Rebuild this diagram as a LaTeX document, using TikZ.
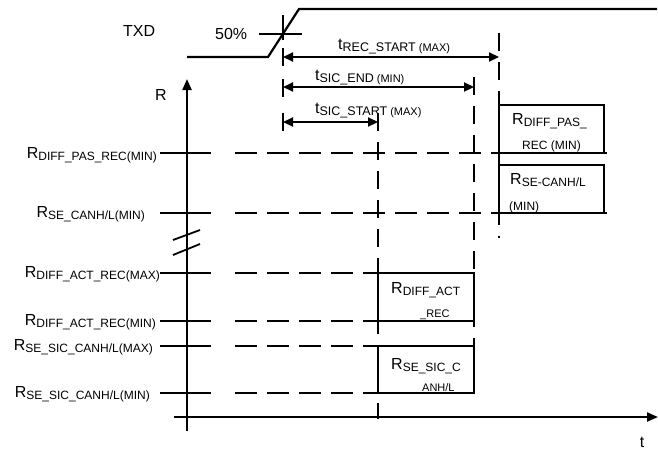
\documentclass[tikz,border=0pt]{standalone}
\usepackage{fontspec}
\setmainfont{Liberation Sans}
\usetikzlibrary{arrows.meta}
\newcommand\sbx[1]{\raisebox{-2pt}{\fontsize{12}{12}\selectfont #1}}
\newcommand\sbt[1]{\raisebox{-2pt}{\fontsize{12.5}{12.5}\selectfont #1}}
\newcommand\smx{\fontsize{11}{11}\selectfont}
\tikzset{
  lab/.style={inner sep=0pt, font=\fontsize{16}{16}\selectfont},
  solidline/.style={line width=2.2pt},
  dline/.style={line width=2.2pt, dash pattern=on 22pt off 10pt},
  vline/.style={line width=2.2pt, dash pattern=on 18pt off 11pt},
  dimarrow/.style={line width=2.2pt, {Triangle[length=10pt,width=9pt]}-{Triangle[length=10pt,width=9pt]}},
  axisarrow/.style={line width=2.2pt, -{Triangle[length=11pt,width=9pt]}}
}
\begin{document}
\begin{tikzpicture}[x=1pt,y=-1pt]
\useasboundingbox (0,0) rectangle (658,453);
% ---- TXD waveform
\node[lab, anchor=base west] (txd) at (123,36) {TXD};
\node[lab, anchor=base west] (fifty) at (215,39) {50\%};
\coordinate (w0) at (187,57);
\coordinate (w1) at (268,57);
\coordinate (w2) at (299,9);
\coordinate (w3) at (657,9);
\draw[solidline] (w0) -- (w1) -- (w2) -- (w3);
\coordinate (h0) at (259,34);
\coordinate (h1) at (302,34);
\draw[solidline] (h0) -- (h1);
% ---- reference vertical at 50% crossing
\foreach \a/\b in {15/40,48/66,79/97,113/131}
  \draw[solidline] (283,\a) -- (283,\b);
% ---- other vertical dashed lines
\coordinate (vA0) at (378,113);
\coordinate (vA1) at (378,419);
\coordinate (vB0) at (474,77);
\coordinate (vB1) at (474,393);
\coordinate (vC0) at (499,33);
\coordinate (vC1) at (499,238);
\draw[vline] (vA0) -- (vA1);
\draw[vline] (vB0) -- (vB1);
\draw[vline] (vC0) -- (vC1);
% ---- dimension arrows
\coordinate (a1l) at (283,57);  \coordinate (a1r) at (499,57);
\coordinate (a2l) at (283,87);  \coordinate (a2r) at (474,87);
\coordinate (a3l) at (283,122); \coordinate (a3r) at (378,122);
\draw[dimarrow] (a1l) -- (a1r);
\draw[dimarrow] (a2l) -- (a2r);
\draw[dimarrow] (a3l) -- (a3r);
\node[lab, anchor=base west] (tRec) at (338,49) {t\sbt{REC\_START\smx\ (MAX)}};
\node[lab, anchor=base west] (tEnd) at (315,80) {t\sbt{SIC\_END\smx\ (MIN)}};
\node[lab, anchor=base west] (tSta) at (315,113) {t\sbt{SIC\_START\smx\ (MAX)}};
% ---- axes
\coordinate (r0) at (187,431);
\coordinate (r1) at (187,79);
\coordinate (t0) at (174,417);
\coordinate (t1) at (658,417);
\draw[axisarrow] (r0) -- (r1);
\draw[axisarrow] (t0) -- (t1);
\node[lab] (Rlab) at (161,95) {R};
\node[lab] (tlab) at (642,442) {t};
% axis break
\coordinate (k1a) at (173,240); \coordinate (k1b) at (200,230);
\coordinate (k2a) at (173,255); \coordinate (k2b) at (200,244);
\draw[line width=1.8pt] (k1a) -- (k1b);
\draw[line width=1.8pt] (k2a) -- (k2b);
% ---- levels
\foreach \y/\e in {153/607,213/607,273/378,321/378,346/378,393/378}{
  \draw[solidline] (160,\y) -- (211,\y);
  \draw[dline] (235,\y) -- (\e,\y);
}
\node[lab, anchor=base east] (L1) at (157,158) {R\sbx{DIFF\_PAS\_REC(MIN)}};
\node[lab, anchor=base east] (L2) at (145,217) {R\sbx{SE\_CANH/L(MIN)}};
\node[lab, anchor=base east] (L3) at (160,277) {R\sbx{DIFF\_ACT\_REC(MAX)}};
\node[lab, anchor=base east] (L4) at (156,325) {R\sbx{DIFF\_ACT\_REC(MIN)}};
\node[lab, anchor=base east] (L5) at (153,350) {R\sbx{SE\_SIC\_CANH/L(MAX)}};
\node[lab, anchor=base east] (L6) at (150,397) {R\sbx{SE\_SIC\_CANH/L(MIN)}};
% ---- boxes
\draw[solidline] (499,153) -- (499,105) -- (604,105) -- (604,153) -- cycle;
\draw[solidline] (499,213) -- (499,165) -- (604,165) -- (604,213) -- cycle;
\draw[solidline] (378,273) rectangle (474,321);
\draw[solidline] (378,346) rectangle (474,393);
\node[lab, anchor=base west] (B1a) at (512,124) {R\sbx{DIFF\_PAS\_}};
\node[lab, anchor=base west] (B1b) at (522,149) {\fontsize{12}{12}\selectfont REC (MIN)};
\node[lab, anchor=base west] (B2a) at (510,184) {R\sbx{SE-CANH/L}};
\node[lab, anchor=base west] (B2b) at (509,210) {\fontsize{12}{12}\selectfont (MIN)};
\node[lab, anchor=base west] (B3a) at (391,293) {R\sbx{DIFF\_ACT}};
\node[lab, anchor=base west] (B3b) at (420,317) {\smx\_REC};
\node[lab, anchor=base west] (B4a) at (391,369) {R\sbx{SE\_SIC\_C}};
\node[lab, anchor=base west] (B4b) at (422,391) {\smx ANH/L};
\end{tikzpicture}
\end{document}
